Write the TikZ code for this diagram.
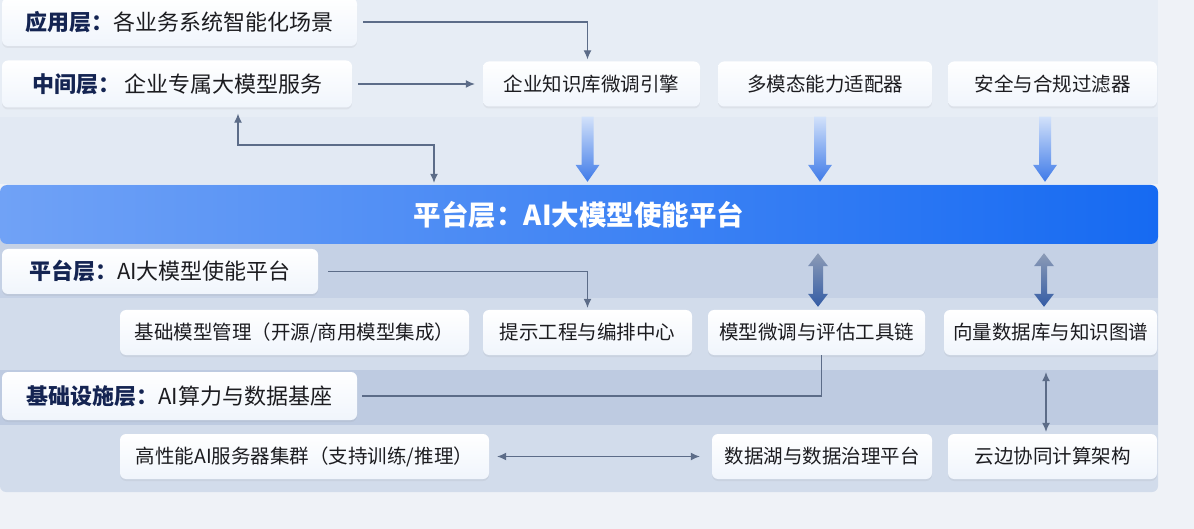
\documentclass[tikz,border=0pt]{standalone}
\usepackage{fontspec}
\setmainfont{Noto Sans CJK SC}
\usetikzlibrary{calc,arrows.meta,positioning,shadows}
\definecolor{layerNavy}{RGB}{20,36,82}
\definecolor{textInk}{RGB}{28,28,32}
\definecolor{linkGray}{RGB}{92,108,136}
\definecolor{barLeft}{RGB}{112,162,246}
\definecolor{barRight}{RGB}{22,106,242}
\definecolor{pageBg}{RGB}{239,242,247}
\definecolor{upperBg}{RGB}{231,237,245}
\definecolor{upperBand}{RGB}{226,233,243}
\definecolor{lowerDark}{RGB}{197,209,229}
\definecolor{lowerLight}{RGB}{210,220,235}
\definecolor{lowerDeep}{RGB}{190,203,225}
\definecolor{boxTint}{RGB}{240,245,252}
\definecolor{fatTop}{RGB}{210,225,250}
\definecolor{fatBlue}{RGB}{62,122,232}
\definecolor{dblTop}{RGB}{140,155,182}
\definecolor{dblBottom}{RGB}{52,92,165}
\newcommand{\LayerName}[1]{\textcolor{layerNavy}{\bfseries #1}}
\newcommand{\FatDown}[2]{%
  \shade[top color=fatTop,bottom color=fatBlue]
    let \p1=(#1), \p2=(#2) in
    (\x1-6pt,\y1) -- (\x1+6pt,\y1) -- (\x1+6pt,\y2+17pt) -- (\x1+12pt,\y2+17pt)
    -- (\x1,\y2) -- (\x1-12pt,\y2+17pt) -- (\x1-6pt,\y2+17pt) -- cycle;}
\newcommand{\FatBoth}[3]{%
  \shade[top color=dblTop,bottom color=dblBottom]
    let \p1=(#1), \p2=(#2) in
    (\x1,\y1) -- (\x1+10pt,\y1-13pt) -- (\x1+#3,\y1-13pt) -- (\x1+#3,\y2+13pt)
    -- (\x1+10pt,\y2+13pt) -- (\x1,\y2) -- (\x1-10pt,\y2+13pt) -- (\x1-#3,\y2+13pt)
    -- (\x1-#3,\y1-13pt) -- (\x1-10pt,\y1-13pt) -- cycle;}
\tikzset{
  box/.style={rounded corners=6pt,top color=white,bottom color=boxTint,inner sep=0pt,
    text=textInk,font=\fontsize{19.5}{23}\selectfont,
    drop shadow={shadow xshift=0pt,shadow yshift=-2pt,opacity=.10}},
  layerbox/.style={box,font=\fontsize{22}{26}\selectfont},
  link/.style={draw=linkGray,line width=1.1pt,shorten >=2pt,-{Latex[length=9pt,width=8pt]}},
  dbllink/.style={link,{Latex[length=9pt,width=8pt]}-{Latex[length=9pt,width=8pt]}},
  plainlink/.style={draw=linkGray,line width=1.1pt}
}
\begin{document}
\begin{tikzpicture}[x=1pt,y=-1pt]
  \useasboundingbox (0,0) rectangle (1194,529);
  % backdrop bands
  \fill[pageBg] (0,0) rectangle (1194,529);
  \fill[upperBg] (0,-8) rectangle (1158,184);
  \fill[upperBand] (0,117) rectangle (1158,184);
  \fill[lowerLight,rounded corners=6pt] (0,230) rectangle (1158,492);
  \fill[lowerDark] (0,230) rectangle (1158,298);
  \fill[lowerDeep] (0,370) rectangle (1158,425);

  % upper layers
  \node[layerbox,minimum width=355pt,minimum height=48pt] (app) at (179.5,22)
    {\LayerName{应用层：}各业务系统智能化场景};
  \node[layerbox,minimum width=350pt,minimum height=47pt] (mid) at (177,84)
    {\LayerName{中间层：}\hspace{4pt}企业专属大模型服务};
  \node[box,minimum width=217pt,minimum height=45pt] (k1) at (591.5,84) {企业知识库微调引擎};
  \node[box,minimum width=214pt,minimum height=45pt] (k2) at (825,84) {多模态能力适配器};
  \node[box,minimum width=209pt,minimum height=45pt] (k3) at (1052.5,84) {安全与合规过滤器};

  % platform bar
  \node[rounded corners=7pt,left color=barLeft,right color=barRight,minimum width=1158pt,
    minimum height=59pt,text=white,font=\fontsize{27.5}{32}\selectfont\bfseries] (bar)
    at (579,214.5) {平台层：AI大模型使能平台};

  % platform row
  \node[layerbox,minimum width=316pt,minimum height=45pt] (plat) at (160,271.5)
    {\LayerName{平台层：}AI大模型使能平台};
  \node[box,minimum width=349pt,minimum height=45pt] (p1) at (294.5,332.5) {基础模型管理（开源/商用模型集成）};
  \node[box,minimum width=209pt,minimum height=45pt] (p2) at (587.5,332.5) {提示工程与编排中心};
  \node[box,minimum width=217pt,minimum height=45pt] (p3) at (816.5,332.5) {模型微调与评估工具链};
  \node[box,minimum width=213pt,minimum height=45pt] (p4) at (1050.5,332.5) {向量数据库与知识图谱};

  % infrastructure row
  \node[layerbox,minimum width=355pt,minimum height=48pt] (infra) at (179.5,396)
    {\LayerName{基础设施层：}AI算力与数据基座};
  \node[box,minimum width=369pt,minimum height=45pt] (i1) at (304.5,456.5) {高性能AI服务器集群（支持训练/推理）};
  \node[box,minimum width=220pt,minimum height=45pt] (i2) at (822,456.5) {数据湖与数据治理平台};
  \node[box,minimum width=209pt,minimum height=45pt] (i3) at (1052.5,456.5) {云边协同计算架构};

  % connectors
  \draw[link] ([xshift=6pt]app.east) -| ([xshift=-4pt]k1.north);
  \draw[link] ([xshift=6pt]mid.east) -- ([xshift=-6pt]k1.west);
  \coordinate (midjog) at (434,145);
  \draw[dbllink] ([xshift=61pt,yshift=-6pt]mid.south) |- (midjog) -- (midjog |- bar.north);
  \FatDown{[xshift=-4pt,yshift=-10pt]k1.south}{[yshift=3pt]bar.north}
  \FatDown{[xshift=-5pt,yshift=-10pt]k2.south}{[yshift=3pt]bar.north}
  \FatDown{[xshift=-7.5pt,yshift=-10pt]k3.south}{[yshift=3pt]bar.north}
  \FatBoth{$(p3.north |- bar.south)+(1.5,9)$}{[yshift=3pt]p3.north}{5pt}
  \FatBoth{$(p4.north |- bar.south)+(-6.5,9)$}{[yshift=3pt]p4.north}{3pt}
  \draw[link] ([xshift=10pt]plat.east) -| (p2.north);
  \draw[plainlink] ([xshift=5pt]infra.east) -| ([xshift=5pt]p3.south);
  \draw[dbllink] ([xshift=8pt]i1.east) -- ([xshift=-10pt]i2.west);
  \draw[dbllink] ([xshift=-4.5pt,yshift=-17pt]p4.south) -- ([xshift=-6.5pt]i3.north);
\end{tikzpicture}
\end{document}
